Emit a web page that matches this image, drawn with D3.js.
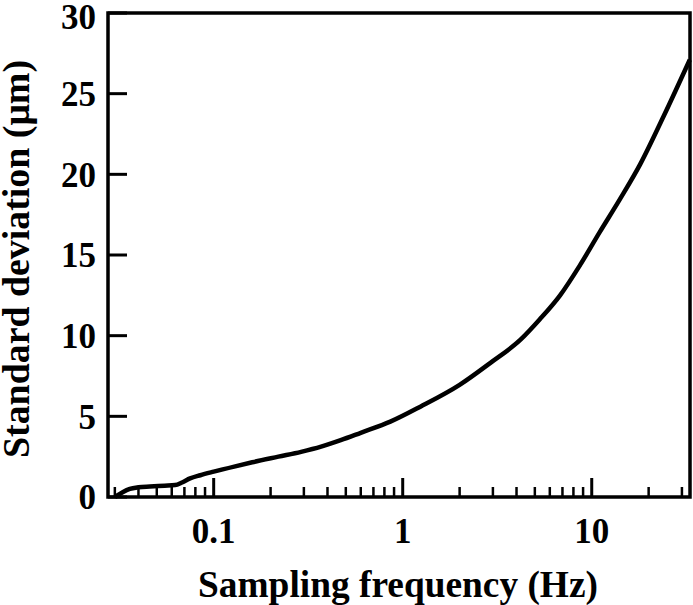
<!DOCTYPE html>
<html><head><meta charset="utf-8">
<script src="https://cdn.jsdelivr.net/npm/d3@7"></script>
<style>body{margin:0;background:#fff}svg{display:block}</style>
</head><body>
<svg id="c" width="693" height="605"></svg>
<script>
const freq = [0.03, 0.033, 0.036, 0.04, 0.046, 0.055, 0.0625, 0.068, 0.075, 0.085, 0.1, 0.13, 0.16, 0.22, 0.29, 0.37, 0.47, 0.6, 0.86, 1.24, 2, 2.9, 4.2, 5.3, 6.8, 8.7, 11, 14, 18, 24, 33];
const stdDev = [0, 0.3, 0.5, 0.6, 0.65, 0.7, 0.74, 0.9, 1.15, 1.35, 1.57, 1.9, 2.15, 2.5, 2.8, 3.12, 3.52, 3.98, 4.67, 5.6, 6.95, 8.3, 9.75, 11.0, 12.5, 14.4, 16.4, 18.4, 20.6, 23.6, 27.1];
const xMajorTicks = [0.1, 1, 10];
const xTickLabels = ["0.1", "1", "10"];
const xMinorTicks = [0.03,0.04,0.05,0.06,0.07,0.08,0.09,0.2,0.3,0.4,0.5,0.6,0.7,0.8,0.9,2,3,4,5,6,7,8,9,20,30];
const yTicks = [0, 5, 10, 15, 20, 25, 30];
const xTitle = "Sampling frequency (Hz)";
const yTitle = "Standard deviation (μm)";

const L = 108, R = 690, T = 13, B = 497;
const svg = d3.select("#c");
const x = d3.scaleLog().domain([0.0276, 33.1]).range([L, R]);
const y = d3.scaleLinear().domain([0, 30]).range([B, T]);
const font = "'Liberation Serif', 'Times New Roman', serif";

// frame
svg.append("rect").attr("x", L).attr("y", T).attr("width", R - L).attr("height", B - T)
  .attr("fill", "none").attr("stroke", "#000").attr("stroke-width", 3.5);

// x ticks (inward)
const gx = svg.append("g");
gx.selectAll("line.mi").data(xMinorTicks).join("line")
  .attr("x1", d => x(d)).attr("x2", d => x(d)).attr("y1", B).attr("y2", B - 10)
  .attr("stroke", "#000").attr("stroke-width", 2.5);
gx.selectAll("line.ma").data(xMajorTicks).join("line")
  .attr("x1", d => x(d)).attr("x2", d => x(d)).attr("y1", B).attr("y2", B - 19)
  .attr("stroke", "#000").attr("stroke-width", 3);
gx.selectAll("text").data(xMajorTicks).join("text")
  .attr("x", d => x(d)).attr("y", 543).attr("text-anchor", "middle")
  .attr("font-family", font).attr("font-weight", "bold").attr("font-size", 35)
  .text((d, i) => xTickLabels[i]);

// y ticks
const gy = svg.append("g");
gy.selectAll("line").data(yTicks).join("line")
  .attr("x1", L).attr("x2", L + 19).attr("y1", d => y(d)).attr("y2", d => y(d))
  .attr("stroke", "#000").attr("stroke-width", 3);
gy.selectAll("text").data(yTicks).join("text")
  .attr("x", 96).attr("y", d => Math.max(y(d), 17)).attr("dy", "0.35em").attr("text-anchor", "end")
  .attr("font-family", font).attr("font-weight", "bold").attr("font-size", 35)
  .text(d => d);

// curve
const pts = freq.map((f, i) => [f, stdDev[i]]);
svg.append("path").datum(pts)
  .attr("d", d3.line().x(d => x(d[0])).y(d => y(d[1])).curve(d3.curveMonotoneX))
  .attr("fill", "none").attr("stroke", "#000").attr("stroke-width", 4.5).attr("stroke-linejoin", "round");

// titles, sized to the reference widths
function fit(sel, target) {
  const len = sel.node().getComputedTextLength();
  sel.attr("font-size", 34 * target / len);
}
const xt = svg.append("text").attr("x", 398).attr("y", 597).attr("text-anchor", "middle")
  .attr("font-family", font).attr("font-weight", "bold").attr("font-size", 34).text(xTitle);
fit(xt, 400);
const yt = svg.append("text").attr("transform", "translate(29,259) rotate(-90)").attr("text-anchor", "middle")
  .attr("font-family", font).attr("font-weight", "bold").attr("font-size", 34).text(yTitle);
fit(yt, 398);
</script>
</body></html>
